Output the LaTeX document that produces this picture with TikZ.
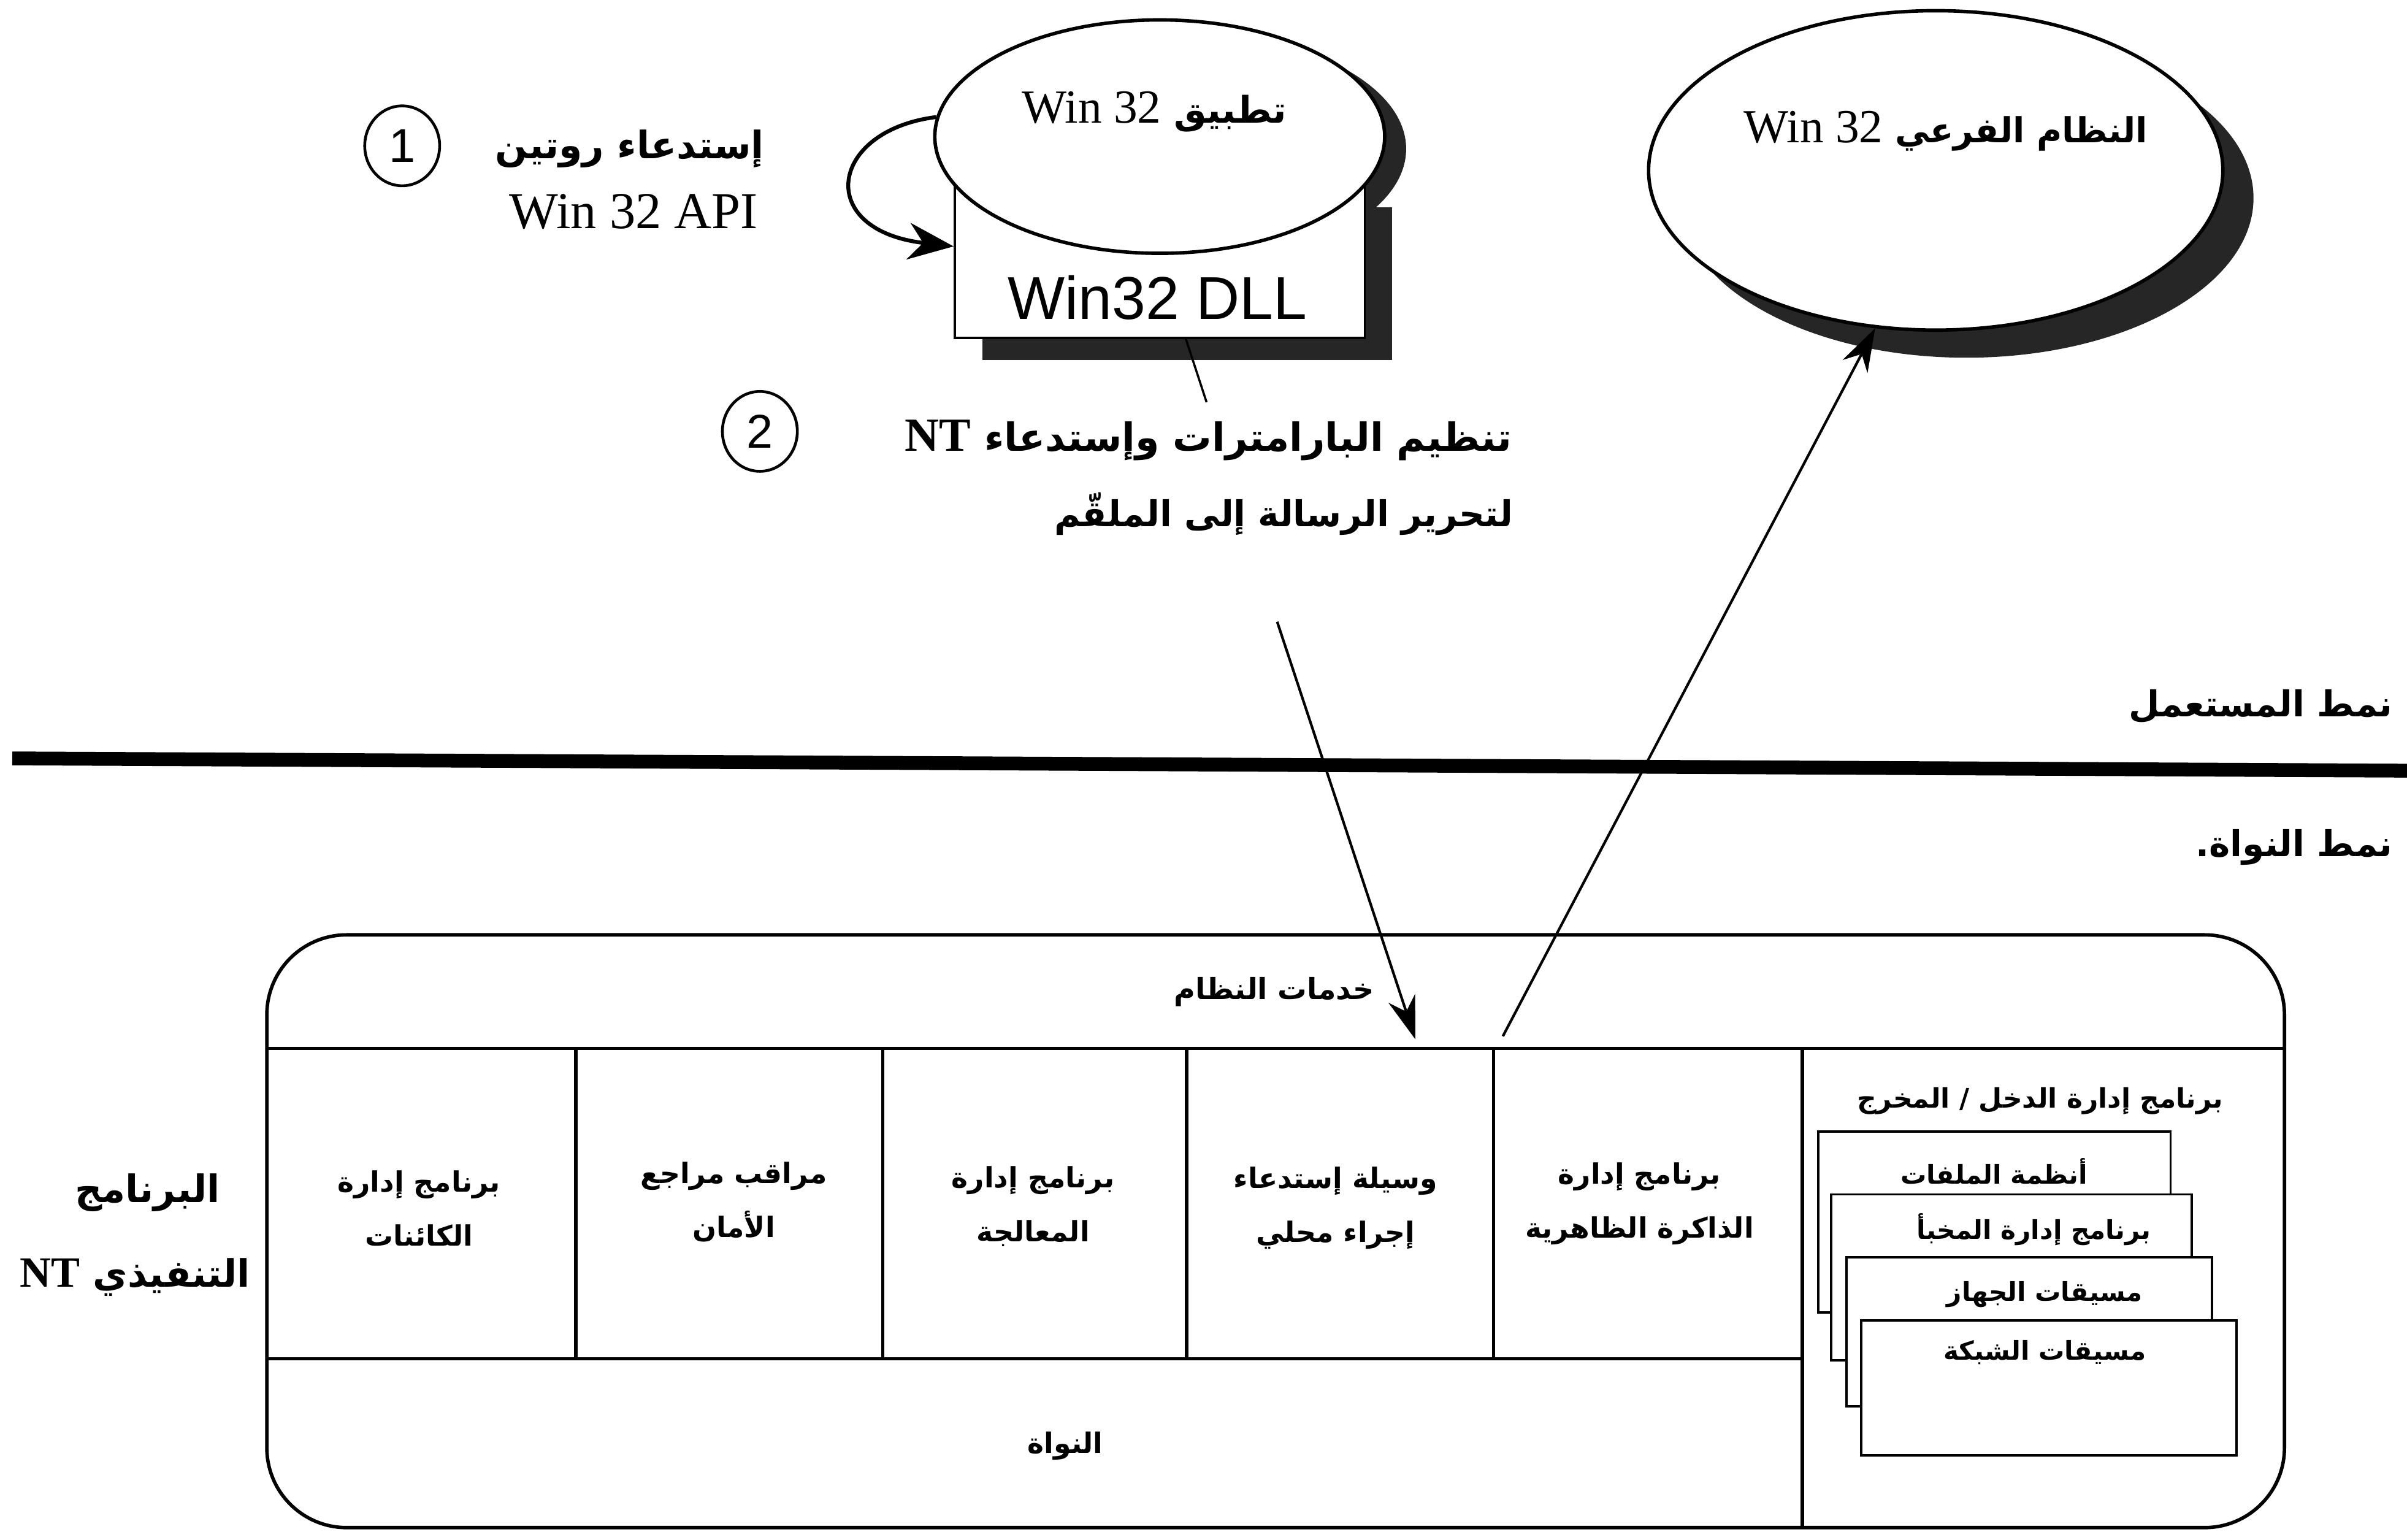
\documentclass[tikz,border=0pt]{standalone}
\usepackage{fontspec}
\setmainfont{Liberation Serif}
\newfontfamily\arabicfont[Script=Arabic]{DejaVu Sans}
\newfontfamily\helv{Liberation Sans}
\TeXXeTstate=1
\usetikzlibrary{arrows.meta,shapes.geometric}
\newcommand\fsz[2]{\fontsize{#1pt}{#2pt}\selectfont}
\begin{document}
\begin{tikzpicture}[x=0.025cm,y=-0.025cm,
  ar/.style={inner sep=0pt, align=center},
  shade/.style={fill=black!85, draw=none},
  conn/.style={line width=1.2pt},
  arr/.style={conn, -{Stealth[length=20pt,width=13pt]}},
  wbox/.style={draw, fill=white, line width=1.1pt},
  frame/.style={line width=1.6pt},
  numc/.style={ellipse, draw, line width=1.3pt, minimum width=1.22cm, minimum height=1.3cm, inner sep=0pt, font=\helv\fsz{22}{24}},
  celltxt/.style={ar, font=\arabicfont\bfseries\fsz{13}{25}},
  iotxt/.style={ar, font=\arabicfont\bfseries\fsz{12}{14}}
]
\useasboundingbox (0,0) rectangle (1568,1003);
\fill[white] (0,0) rectangle (1568,1003);

% step 1
\node[numc] (c1) at (262,95) {1};
\node[ar, font=\arabicfont\bfseries\fsz{17.5}{20}, anchor=east] (l1a) at (498,97) {\beginR إستدعاء روتين\endR};
\node[ar, font=\fsz{24}{28}, anchor=base east] (l1b) at (494,149) {Win 32 API};

% application + DLL
\fill[shade] (769.5,97) ellipse [x radius=146.5, y radius=76];
\fill[shade] (640,135) rectangle (907,234.6);
\node[wbox, minimum width=6.675cm, minimum height=2.475cm, inner sep=0pt] (dll) at (755.5,170.5) {};
\node[ar, font=\helv\fsz{28}{30}] (dlltxt) at (754,194) {Win32 DLL};
\node[ellipse, draw, fill=white, line width=1.6pt, minimum width=7.325cm, minimum height=3.8cm, inner sep=0pt] (app) at (755.5,89) {};
\node[ar, font=\arabicfont\bfseries\fsz{17}{20}, anchor=base] (apptxt) at (752,80) {\beginR تطبيق \beginL{\rmfamily\mdseries\fsz{22}{24}Win 32}\endL\endR};

\draw[line width=1.8pt, -{Stealth[length=21pt,width=17pt]}] (app.175) .. controls (540,85) and (530,150) .. ([yshift=0.25cm]dll.west);

% step 2
\coordinate (t2top) at (786,262);
\draw[line width=1pt] ([xshift=0.425cm]dll.south) -- (t2top);
\node[numc] (c2) at (495,281) {2};
\node[ar, font=\arabicfont\bfseries\fsz{18}{22}, anchor=base east] (t2a) at (985,294) {\beginR تنظيم البارامترات وإستدعاء \beginL{\rmfamily\bfseries\fsz{22}{24}NT}\endL\endR};
\node[ar, font=\arabicfont\bfseries\fsz{16.5}{20}, anchor=base east] (t2b) at (986,343) {\beginR لتحرير الرسالة إلى الملقّم\endR};

% Win32 subsystem
\fill[shade] (1281,129) ellipse [x radius=187, y radius=104];
\node[ellipse, draw, fill=white, line width=1.6pt, minimum width=9.35cm, minimum height=5.2cm, inner sep=0pt] (sub) at (1261,111) {};
\node[ar, font=\arabicfont\bfseries\fsz{16}{20}, anchor=base] (subtxt) at (1267.5,93) {\beginR النظام الفرعي \beginL{\rmfamily\mdseries\fsz{22}{24}Win 32}\endL\endR};

% user / kernel mode
\coordinate (ml) at (8,494);
\coordinate (mr) at (1568,502);
\draw[line width=6.4pt] (ml) -- (mr);
\node[ar, font=\arabicfont\bfseries\fsz{16.5}{20}, anchor=east] (um) at (1559,460) {\beginR نمط المستعمل\endR};
\node[ar, font=\arabicfont\bfseries\fsz{16.5}{20}, anchor=east] (km) at (1559,552) {\beginR نمط النواة.\endR};

% NT executive
\node[draw, frame, rounded corners=1.3cm, minimum width=32.85cm, minimum height=9.65cm, inner sep=0pt] (nt) at (831,802) {};
\draw[frame] (174,683) -- (1488,683);
\draw[frame] (174,885) -- (1174,885);
\foreach \x in {375,575,773,973} \draw[frame] (\x,683) -- (\x,885);
\draw[frame] (1174,683) -- (1174,995);

\node[celltxt, font=\arabicfont\bfseries\fsz{13.5}{16}] (svc) at (830,646) {\beginR خدمات النظام\endR};
\node[celltxt] (objm) at (273,787) {\beginR برنامج إدارة\endR\\\beginR الكائنات\endR};
\node[celltxt] (secm) at (478,783) {\beginR مراقب مراجع\endR\\\beginR الأمان\endR};
\node[celltxt] (prcm) at (673,786) {\beginR برنامج إدارة\endR\\\beginR المعالجة\endR};
\node[celltxt] (lpc) at (870,787) {\beginR وسيلة إستدعاء\endR\\\beginR إجراء محلي\endR};
\node[celltxt] (vmm) at (1068,784) {\beginR برنامج إدارة\endR\\\beginR الذاكرة الظاهرية\endR};
\node[celltxt] (kern) at (694,942) {\beginR النواة\endR};

\node[iotxt, font=\arabicfont\bfseries\fsz{12.5}{14}] (iom) at (1329,717) {\beginR برنامج إدارة الدخل / المخرج\endR};
\draw[wbox] (1184.5,737) rectangle (1414,855);
\node[iotxt] (fs) at (1299,763) {\beginR أنظمة الملفات\endR};
\draw[wbox] (1193,778) rectangle (1427.6,886);
\node[iotxt] (cache) at (1325,801) {\beginR برنامج إدارة المخبأ\endR};
\draw[wbox] (1203,819) rectangle (1441,916);
\node[iotxt] (devd) at (1332,843) {\beginR مسيقات الجهاز\endR};
\draw[wbox] (1212.5,860) rectangle (1457,948);
\node[iotxt] (netd) at (1332,881) {\beginR مسيقات الشبكة\endR};

\node[ar, font=\arabicfont\bfseries\fsz{17.5}{20}] (exe1) at (96,777) {\beginR البرنامج\endR};
\node[ar, font=\arabicfont\bfseries\fsz{17.5}{20}] (exe2) at (88,832) {\beginR التنفيذي \beginL{\rmfamily\bfseries\fsz{20}{22}NT}\endL\endR};

% arrows
\coordinate (dA) at (832,405);
\coordinate (dB) at (922,677);
\draw[arr] (dA) -- (dB);
\coordinate (uA) at (979,675);
\draw[arr] (uA) -- (sub.249);
\end{tikzpicture}
\end{document}
